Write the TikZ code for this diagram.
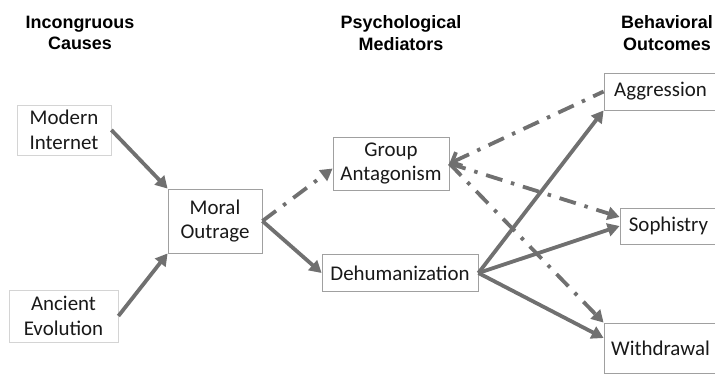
\documentclass[tikz,border=0pt]{standalone}
\usepackage{fontspec}
\usepackage{tikz}
\usetikzlibrary{arrows.meta, positioning}
\newfontfamily\boxfont{Carlito}
\newfontfamily\headfont{Liberation Sans}
\definecolor{arrowgray}{RGB}{112,112,112}
\definecolor{framegray}{RGB}{160,160,160}
\definecolor{palegray}{RGB}{212,212,212}

\begin{document}
\begin{tikzpicture}[
  x=1bp, y=-1bp,
  head/.style={
    align=center, font=\headfont\bfseries\fontsize{18}{21.5}\selectfont,
    inner sep=0pt
  },
  factor/.style={
    rectangle, draw=framegray, line width=0.8bp, fill=white,
    align=center, inner sep=2bp,
    font=\boxfont\fontsize{21}{25}\selectfont, text=black!90
  },
  cause/.style={factor, draw=palegray},
  arr/.style={-{Triangle[length=12bp, width=13bp]}, line width=3.8bp, arrowgray},
  dasharr/.style={arr, dash pattern=on 17bp off 9bp on 3.5bp off 9bp}
]
\clip (0,0) rectangle (715,374);

%% Column headings
\node[head] (hcause) at (80,33) {Incongruous\\Causes};
\node[head] (hmed)   at (401,33) {Psychological\\Mediators};
\node[head] (hout)   at (667,33) {Behavioral\\Outcomes};

%% Causes
\node[cause, minimum width=94bp, minimum height=50bp]  (internet)  at (64,130)  {Modern\\Internet};
\node[cause, minimum width=109bp, minimum height=52bp] (evolution) at (63.5,316) {Ancient\\Evolution};

%% Mediators
\node[factor, minimum width=94bp, minimum height=64bp]  (outrage) at (215,221)   {Moral\\Outrage};
\node[factor, minimum width=116bp, minimum height=53bp] (group)   at (391,163.5) {Group\\Antagonism};
\node[factor, minimum width=156bp, minimum height=37bp] (dehum)   at (400,273)   {Dehumanization};

%% Outcomes
\node[factor, minimum width=113bp, minimum height=37bp] (aggression) at (660.5,91.5) {Aggression};
\node[factor, minimum width=97bp, minimum height=36bp]  (sophistry)  at (668.5,226)  {Sophistry};
\node[factor, minimum width=113bp, minimum height=50bp] (withdrawal) at (660.5,348)  {Withdrawal};

%% Solid paths
\draw[arr] (internet.east) -- (outrage.north west);
\draw[arr] (evolution.east) -- (outrage.south west);
\draw[arr] (outrage.east) -- (dehum.west);
\draw[arr] (dehum.east) -- (aggression.south west);
\draw[arr] (dehum.east) -- (sophistry.west);
\draw[arr] (dehum.east) -- ([yshift=10bp]withdrawal.west);

%% Dash-dot paths
\draw[dasharr] (outrage.east) -- ([yshift=-5bp]group.west);
\draw[dasharr, {Straight Barb[length=8bp, width=15bp]}-] (group.east) -- (aggression.west);
\draw[dasharr] (group.east) -- ([yshift=9bp]sophistry.west);
\draw[dasharr] (group.east) -- (withdrawal.north west);

\end{tikzpicture}
\end{document}
